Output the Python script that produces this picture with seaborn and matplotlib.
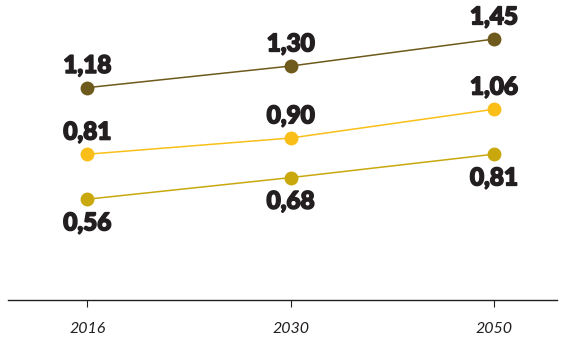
import matplotlib
matplotlib.use("Agg")
import matplotlib.pyplot as plt
import matplotlib.patheffects as pe
import seaborn as sns
import pandas as pd

years = ["2016", "2030", "2050"]
series_names = ["high", "mid", "low"]
high = [1.18, 1.30, 1.45]
mid = [0.81, 0.90, 1.06]
low = [0.56, 0.68, 0.81]
colors = {"high": "#6e5a1c", "mid": "#f9bf18", "low": "#c9a80e"}
label_side = {"high": 1, "mid": 1, "low": -1}

rows = []
for name, vals in zip(series_names, [high, mid, low]):
    for i, (y, v) in enumerate(zip(years, vals)):
        rows.append({"pos": i, "year": y, "value": v, "series": name})
df = pd.DataFrame(rows)

sns.set_theme(style="white")
plt.rcParams["font.family"] = ["Lato", "DejaVu Sans"]

fig = plt.figure(figsize=(5.76, 3.44), dpi=100)
ax = fig.add_axes([0.014, 0.128, 0.953, 0.872])

sns.lineplot(data=df, x="pos", y="value", hue="series", palette=colors,
             marker="o", markersize=10, markeredgewidth=0, linewidth=1.1,
             legend=False, ax=ax)

for name, vals in zip(series_names, [high, mid, low]):
    for i, v in enumerate(vals):
        off = 16 if label_side[name] > 0 else -17
        ax.annotate(f"{v:.2f}".replace(".", ","), (i, v), xytext=(0, off),
                    textcoords="offset points", ha="center", va="center",
                    fontsize=17.5, fontweight="black", color="#231f20",
                    path_effects=[pe.withStroke(linewidth=1.2, foreground="#231f20")])

ax.set_xlim(-0.39, 2.31)
ax.set_ylim(0, 1.667)
ax.set_xticks(range(len(years)))
ax.set_xticklabels(years, fontsize=11.5, style="italic", fontweight="normal", color="#231f20")
ax.set_yticks([])
ax.set_xlabel("")
ax.set_ylabel("")
for s in ["top", "right", "left"]:
    ax.spines[s].set_visible(False)
ax.spines["bottom"].set_color("#231f20")
ax.spines["bottom"].set_linewidth(1.0)
ax.tick_params(axis="x", bottom=True, length=5, width=0.8, color="#231f20", pad=11)

fig.savefig("out.png", dpi=100)
